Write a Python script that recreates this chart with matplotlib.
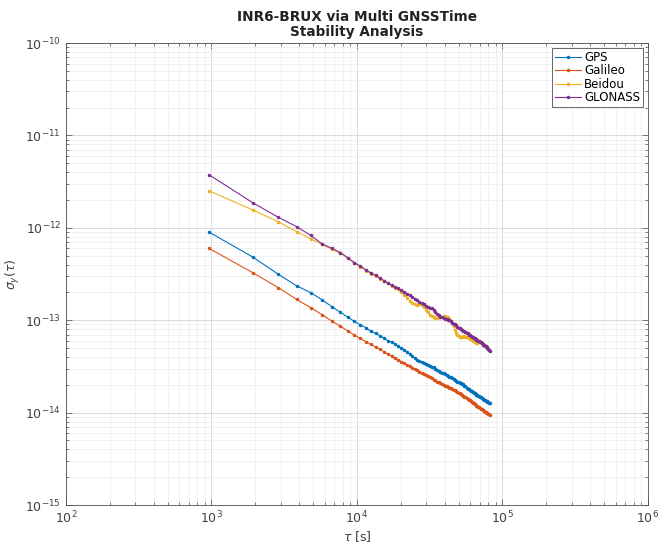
import numpy as np
import matplotlib
matplotlib.use("Agg")
import matplotlib.pyplot as plt

# averaging times: multiples of 960 s
n_pts = 85
tau = 960 * np.arange(1, n_pts + 1)

# ADEV values
gps = [90, 48.3, 31.4, 23.6, 19.9, 16.6, 14.0, 12.2, 10.8, 9.7,
       8.9, 8.3, 7.6, 7.2, 6.8, 6.4, 6.0, 5.8, 5.5, 5.2,
       5.0, 4.8, 4.55, 4.3, 4.1, 3.9, 3.7, 3.58, 3.5, 3.42,
       3.36, 3.3, 3.22, 3.15, 3.08, 3.0, 2.92, 2.85, 2.78, 2.71,
       2.66, 2.6, 2.55, 2.5, 2.44, 2.4, 2.35, 2.3, 2.26, 2.2,
       2.16, 2.12, 2.08, 2.1, 2.02, 2.04, 1.95, 1.93, 1.85, 1.82,
       1.79, 1.76, 1.73, 1.70, 1.67, 1.65, 1.62, 1.59, 1.57, 1.54,
       1.53, 1.50, 1.48, 1.46, 1.44, 1.42, 1.40, 1.38, 1.36, 1.34,
       1.32, 1.31, 1.29, 1.275, 1.26]
galileo = [60, 32.7, 22.5, 16.8, 13.7, 11.45, 9.8, 8.6, 7.66, 6.9,
           6.34, 5.87, 5.47, 5.12, 4.82, 4.55, 4.31, 4.10, 3.91, 3.73,
           3.57, 3.43, 3.30, 3.17, 3.06, 2.96, 2.86, 2.77, 2.70, 2.60,
           2.56, 2.46, 2.40, 2.34, 2.28, 2.23, 2.17, 2.12, 2.07, 2.03,
           2.0, 1.96, 1.93, 1.89, 1.86, 1.83, 1.80, 1.77, 1.74, 1.70,
           1.67, 1.65, 1.62, 1.585, 1.552, 1.521, 1.49, 1.46, 1.432, 1.405,
           1.378, 1.353, 1.328, 1.305, 1.282, 1.26, 1.238, 1.217, 1.19, 1.18,
           1.158, 1.14, 1.122, 1.104, 1.087, 1.071, 1.055, 1.04, 1.025, 1.01,
           0.996, 0.982, 0.969, 0.956, 0.943]
beidou = [25.2, 15.6, 11.6, 9.1, 7.6, 6.6, 5.85, 5.3, 4.7, 4.15,
          3.8, 3.45, 3.2, 3.0, 2.82, 2.66, 2.5, 2.37, 2.25, 2.15,
          2.0, 1.88, 1.75, 1.62, 1.55, 1.5, 1.47, 1.5, 1.47, 1.4,
          1.3, 1.22, 1.15, 1.1, 1.07, 1.06, 1.06, 1.07, 1.08, 1.09,
          1.1, 1.1, 1.09, 1.07, 1.04, 0.99, 0.93, 0.86, 0.79, 0.73,
          0.69, 0.67, 0.66, 0.66, 0.665, 0.67, 0.67, 0.665, 0.66, 0.65,
          0.64, 0.63, 0.62, 0.61, 0.6, 0.59, 0.575, 0.565, 0.56, 0.565,
          0.575, 0.585, 0.585, 0.575, 0.565, 0.555, 0.545, 0.54, 0.53, 0.52,
          0.51, 0.5, 0.49, 0.48, 0.47]
glonass = [37.6, 18.7, 13.0, 10.3, 8.3, 6.7, 6.0, 5.4, 4.75, 4.2,
           3.85, 3.5, 3.25, 3.05, 2.85, 2.68, 2.52, 2.4, 2.3, 2.22,
           2.12, 2.03, 1.94, 1.87, 1.79, 1.71, 1.64, 1.58, 1.53, 1.48,
           1.44, 1.40, 1.37, 1.34, 1.29, 1.24, 1.18, 1.13, 1.09, 1.07,
           1.05, 1.04, 1.02, 1.01, 1.0, 0.97, 0.94, 0.92, 0.9, 0.88,
           0.85, 0.83, 0.82, 0.8, 0.79, 0.77, 0.76, 0.75, 0.73, 0.72,
           0.70, 0.69, 0.68, 0.665, 0.655, 0.645, 0.635, 0.625, 0.615, 0.605,
           0.595, 0.59, 0.585, 0.575, 0.565, 0.555, 0.545, 0.54, 0.53, 0.52,
           0.51, 0.5, 0.49, 0.48, 0.47]

gps = np.array(gps) * 1e-14
galileo = np.array(galileo) * 1e-14
beidou = np.array(beidou) * 1e-13
glonass = np.array(glonass) * 1e-13

names = ["GPS", "Galileo", "Beidou", "GLONASS"]
colors = ["#0072BD", "#D95319", "#EDB120", "#7E2F8E"]

fig = plt.figure(figsize=(6.58, 5.5), dpi=100)
ax = fig.add_axes([0.1003, 0.0818, 0.8845, 0.84])

for vals, name, c in zip([gps, galileo, beidou, glonass], names, colors):
    ax.loglog(tau, vals, '-', marker='.', markersize=3, lw=0.8, color=c, label=name)

ax.set_xlim(1e2, 1e6)
ax.set_ylim(1e-15, 1e-10)

ax.grid(True, which='major', color='#d6d6d6', lw=0.6)
ax.grid(True, which='minor', color='#ececec', lw=0.5)
ax.set_axisbelow(True)

ax.tick_params(which='both', direction='in', top=True, right=True, colors='#4d4d4d',
               labelcolor='#404040', labelsize=9, width=0.5)
ax.tick_params(which='major', length=4)
ax.tick_params(which='minor', length=2)
for s in ax.spines.values():
    s.set_color('#4d4d4d')
    s.set_linewidth(0.6)

ax.set_xlabel(r'$\tau$ [s]', fontsize=9, color='#404040', labelpad=2)
ax.set_ylabel(r'$\sigma_y(\tau)$', fontsize=9, color='#404040', labelpad=2)
ax.set_title('INR6-BRUX via Multi GNSSTime\nStability Analysis', fontsize=9.8,
             fontweight='bold', color='#222222', pad=5, linespacing=1.1)

leg = ax.legend(loc='upper right', fontsize=8.5, handlelength=2.2, borderpad=0.25,
                labelspacing=0.05, handletextpad=0.3, fancybox=False, framealpha=1,
                borderaxespad=0.4)
leg.get_frame().set_edgecolor('#4d4d4d')
leg.get_frame().set_linewidth(0.6)

fig.savefig('out.png', dpi=100)
